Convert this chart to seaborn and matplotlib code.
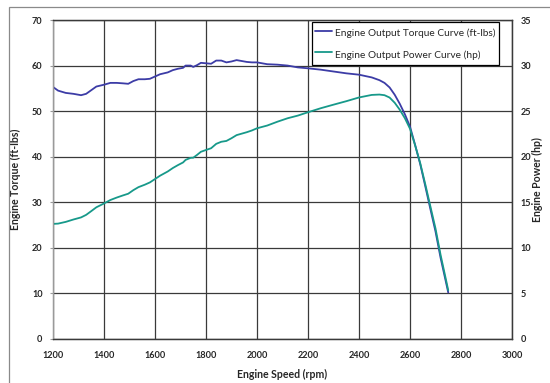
import matplotlib
matplotlib.use("Agg")
import matplotlib.pyplot as plt
from matplotlib.patches import Rectangle
import pandas as pd
import seaborn as sns

# Engine dyno sweep: speed (rpm), torque (ft-lbs), power (hp)
rpm = [1200, 1220, 1250, 1280, 1310, 1330, 1350, 1370, 1400, 1425, 1450, 1475,
       1495, 1515, 1535, 1560, 1580, 1600, 1620, 1650, 1670, 1690, 1710, 1720,
       1740, 1750, 1765, 1780, 1800, 1820, 1840, 1860, 1880, 1900, 1920, 1940,
       1960, 1980, 2000, 2040, 2080, 2120, 2160, 2200, 2250, 2300, 2350, 2400,
       2450, 2480, 2500, 2520, 2540, 2560, 2580, 2600, 2620, 2640, 2660, 2680,
       2700, 2720, 2735, 2750]
torque = [55.3, 54.5, 54.0, 53.8, 53.5, 53.8, 54.6, 55.4, 55.8, 56.2, 56.2, 56.1,
          56.0, 56.6, 57.0, 57.0, 57.1, 57.6, 58.1, 58.5, 59.0, 59.3, 59.5, 60.0,
          60.0, 59.7, 60.1, 60.6, 60.5, 60.4, 61.1, 61.1, 60.7, 60.9, 61.2, 61.0,
          60.8, 60.7, 60.7, 60.3, 60.2, 60.0, 59.6, 59.4, 59.1, 58.7, 58.3, 58.0,
          57.4, 56.8, 56.2, 55.2, 53.6, 51.6, 49.3, 46.6, 42.6, 38.4, 33.5, 28.5,
          23.6, 17.8, 14.0, 10.2]
power = [12.63, 12.66, 12.85, 13.11, 13.34, 13.62, 14.03, 14.45, 14.87, 15.25,
         15.52, 15.76, 15.94, 16.33, 16.66, 16.93, 17.18, 17.55, 17.92, 18.38,
         18.76, 19.08, 19.37, 19.65, 19.88, 19.89, 20.20, 20.54, 20.74, 20.93,
         21.41, 21.64, 21.73, 22.03, 22.37, 22.53, 22.69, 22.88, 23.12, 23.42,
         23.84, 24.22, 24.51, 24.88, 25.32, 25.71, 26.09, 26.50, 26.78, 26.82,
         26.75, 26.49, 25.92, 25.15, 24.22, 23.07, 21.25, 19.30, 16.97, 14.54,
         12.13, 9.22, 7.29, 5.34]

x_ticks = [1200, 1400, 1600, 1800, 2000, 2200, 2400, 2600, 2800, 3000]
torque_ticks = [0, 10, 20, 30, 40, 50, 60, 70]
power_ticks = [0, 5, 10, 15, 20, 25, 30, 35]

torque_label = "Engine Output Torque Curve (ft-lbs)"
power_label = "Engine Output Power Curve (hp)"

df = pd.DataFrame({"rpm": rpm, "torque": torque, "power": power})

sns.set_style("white")
plt.rcParams["font.family"] = ["Lato", "DejaVu Sans"]

fig = plt.figure(figsize=(5.5, 3.83), dpi=100)
ax = fig.add_axes([53 / 550, 1 - 339 / 383, 459 / 550, 319 / 383])
ax2 = ax.twinx()

torque_color = "#3c3ca6"
power_color = "#17998a"

sns.lineplot(data=df, x="rpm", y="torque", ax=ax, color=torque_color,
             linewidth=1.3, label=torque_label, legend=False)
sns.lineplot(data=df, x="rpm", y="power", ax=ax2, color=power_color,
             linewidth=1.3, label=power_label, legend=False)

ax.set_xlim(1200, 3000)
ax.set_ylim(0, 70)
ax2.set_ylim(0, 35)
ax.set_xticks(x_ticks)
ax.set_yticks(torque_ticks)
ax2.set_yticks(power_ticks)

ax.grid(True, color="#3a3a3a", linewidth=0.9)
ax.set_axisbelow(True)

for a in (ax, ax2):
    a.tick_params(length=0, labelsize=6.6)
    for lab in a.get_xticklabels() + a.get_yticklabels():
        lab.set_fontweight("bold")
ax.tick_params(axis="x", pad=9)
ax.tick_params(axis="y", length=2.5, width=0.8, color="#9a9a9a", pad=5)
ax2.tick_params(axis="y", pad=6)

for a in (ax, ax2):
    for side in ("top", "bottom", "right"):
        a.spines[side].set_color("#3a3a3a")
        a.spines[side].set_linewidth(0.9)
    a.spines["left"].set_color("#9a9a9a")
    a.spines["left"].set_linewidth(0.9)

ax.set_xlabel("Engine Speed (rpm)", fontsize=7.6, fontweight="bold", labelpad=6)
ax.set_ylabel("Engine Torque (ft-lbs)", fontsize=7.6, fontweight="bold", labelpad=8)
ax2.set_ylabel("Engine Power (hp)", fontsize=7.6, fontweight="bold", labelpad=1)

h1, l1 = ax.get_legend_handles_labels()
h2, l2 = ax2.get_legend_handles_labels()
leg = ax2.legend(h1 + h2, l1 + l2, loc="upper right",
                 bbox_to_anchor=((499 - 53) / 459, (339 - 22) / 319),
                 borderaxespad=0, fontsize=7.3, frameon=True, fancybox=False,
                 edgecolor="black", framealpha=1, handlelength=1.7,
                 handleheight=2.0, handletextpad=0.35, borderpad=0.3,
                 labelspacing=0.6)
leg.get_frame().set_linewidth(0.9)

# thin outer chart border
fig.patches.append(Rectangle((9 / 550, -0.2), 1.2, 1 - 7 / 383 + 0.2,
                             transform=fig.transFigure, fill=False,
                             edgecolor="#8a8a8a", linewidth=0.9, clip_on=False))

fig.savefig("out.png", dpi=100)
